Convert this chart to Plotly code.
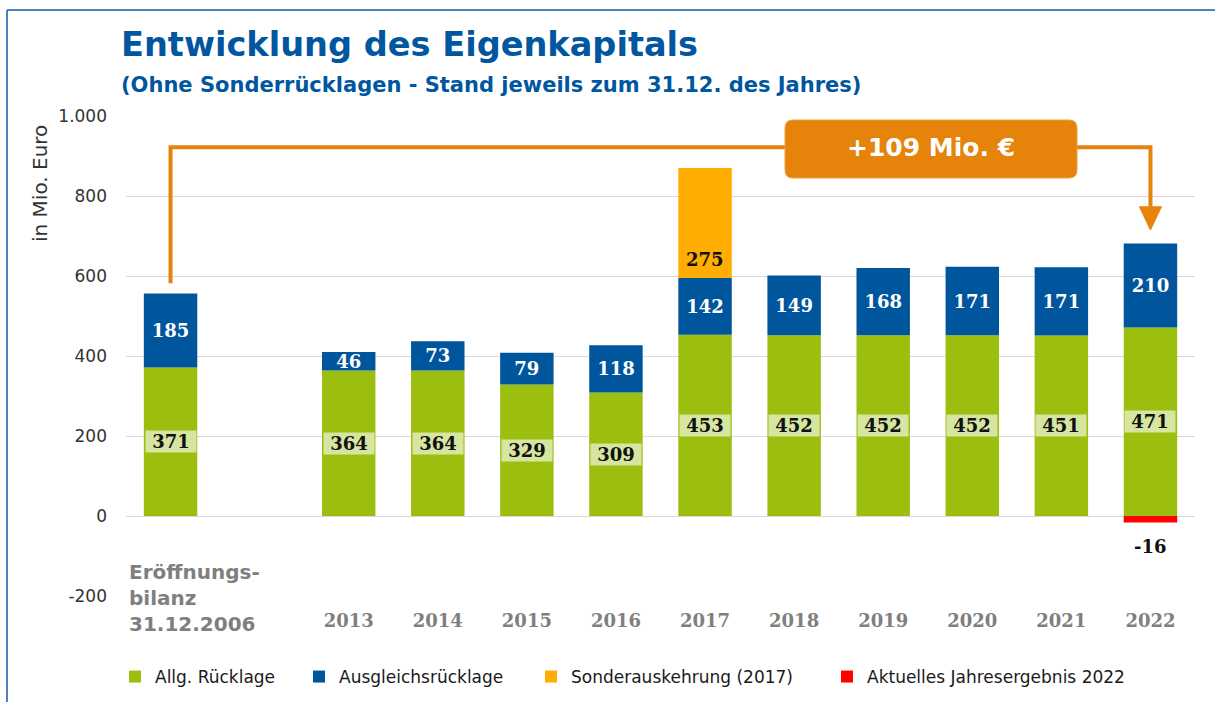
import plotly.graph_objects as go

# ---------------- data ----------------
categories = ["Eröffnungsbilanz 31.12.2006", "2013", "2014", "2015", "2016",
              "2017", "2018", "2019", "2020", "2021", "2022"]
opening_label = "Eröffnungs-<br>bilanz<br>31.12.2006"
allg_ruecklage = [371, 364, 364, 329, 309, 453, 452, 452, 452, 451, 471]
ausgleichsruecklage = [185, 46, 73, 79, 118, 142, 149, 168, 171, 171, 210]
sonder_cats = ["2017"]
sonder_vals = [275]
jahres_cats = ["2022"]
jahres_vals = [-16]
y_ticks = [-200, 0, 200, 400, 600, 800, 1000]
y_ticktext = [f"{v:,}".replace(",", ".") for v in y_ticks]
change_label = "+109 Mio. €"

series_names = ["Allg. Rücklage", "Ausgleichsrücklage",
                "Sonderauskehrung (2017)", "Aktuelles Jahresergebnis 2022"]
colors = ["#9BBE0F", "#00569D", "#FFAD00", "#FF0000"]
legend_widths = [139, 187, 251, 290]

# slot positions: one empty slot between opening balance and 2013
slot = {c: (0 if i == 0 else i + 1) for i, c in enumerate(categories)}
xs = [slot[c] for c in categories]

# ---------------- geometry helpers ----------------
W, H = 1215, 702
L, R, T, B = 126, 20, 116, 106
pw, ph = W - L - R, H - T - B
x_range = [-0.5, 11.5]
y_range = [-200, 1000]


def px_x(p):
    return (p - L) / pw


def px_y(p):
    return (H - B - p) / ph


ux = pw / (x_range[1] - x_range[0])   # px per x unit
uy = ph / (y_range[1] - y_range[0])   # px per y unit

serif = "DejaVu Serif"
sans = "DejaVu Sans"
orange = "#E5830A"

fig = go.Figure()
fig.add_bar(x=xs, y=allg_ruecklage, name=series_names[0], legendwidth=legend_widths[0],
            marker=dict(color=colors[0], line=dict(width=0)), width=0.6)
fig.add_bar(x=xs, y=ausgleichsruecklage, name=series_names[1], legendwidth=legend_widths[1],
            marker=dict(color=colors[1], line=dict(width=0)), width=0.6,
            text=[str(v) for v in ausgleichsruecklage], textposition="inside",
            insidetextanchor="middle", textangle=0,
            textfont=dict(family=serif, size=18, color="white", weight="bold"))
fig.add_bar(x=[slot[c] for c in sonder_cats], y=sonder_vals, name=series_names[2],
            legendwidth=legend_widths[2],
            marker=dict(color=colors[2], line=dict(width=0)), width=0.6)
fig.add_bar(x=[slot[c] for c in jahres_cats], y=jahres_vals, name=series_names[3],
            legendwidth=legend_widths[3],
            marker=dict(color=colors[3], line=dict(width=0)), width=0.6)

annotations = []
# green labels with light boxes
for c, v in zip(categories, allg_ruecklage):
    annotations.append(dict(x=slot[c], y=v / 2, xref="x", yref="y",
                            text=f"\u00a0{v}\u00a0", showarrow=False,
                            bgcolor="#D6E5A0", borderpad=0,
                            font=dict(family=serif, size=18, color="#111111", weight="bold")))
# Sonderauskehrung label
for c, v in zip(sonder_cats, sonder_vals):
    i = categories.index(c)
    base = allg_ruecklage[i] + ausgleichsruecklage[i]
    annotations.append(dict(x=slot[c], y=base, xref="x", yref="y", yanchor="bottom",
                            yshift=6, text=str(v), showarrow=False,
                            font=dict(family=serif, size=18, color="#111111", weight="bold")))
# Jahresergebnis label
for c, v in zip(jahres_cats, jahres_vals):
    annotations.append(dict(x=slot[c], y=v, xref="x", yref="y", yanchor="top",
                            yshift=-12, text=str(v), showarrow=False,
                            font=dict(family=serif, size=18, color="#111111", weight="bold")))
# opening balance category label
annotations.append(dict(x=slot[categories[0]], y=y_range[0], xref="x", yref="y",
                        xanchor="left", yanchor="middle", xshift=-47, yshift=-2,
                        align="left", text=opening_label, showarrow=False,
                        bgcolor="white", borderpad=4,
                        font=dict(family=sans, size=20, color="#7F7F7F", weight="bold")))
# title + subtitle
annotations.append(dict(x=px_x(119), y=px_y(45), xref="paper", yref="paper",
                        xanchor="left", yanchor="middle", showarrow=False,
                        text="Entwicklung des Eigenkapitals",
                        font=dict(family=sans, size=33.6, color="#0057A0", weight="bold")))
annotations.append(dict(x=px_x(119), y=px_y(85), xref="paper", yref="paper",
                        xanchor="left", yanchor="middle", showarrow=False,
                        text="(Ohne Sonderrücklagen - Stand jeweils zum 31.12. des Jahres)",
                        font=dict(family=sans, size=21, color="#0057A0", weight="bold")))
# y-axis title
annotations.append(dict(x=px_x(40), y=px_y(184), xref="paper", yref="paper",
                        xanchor="center", yanchor="middle",
                        textangle=-90, showarrow=False, text="in Mio. Euro",
                        font=dict(family=sans, size=20, color="#333333")))

# ---------------- connector / arrow / box ----------------
first_total = allg_ruecklage[0] + ausgleichsruecklage[0]
last_total = allg_ruecklage[-1] + ausgleichsruecklage[-1]
x_first, x_last = slot[categories[0]], slot[categories[-1]]
y_start = first_total + 26
y_top = 922
y_arrow_base = last_total + 92
y_arrow_tip = last_total + 34
dx = 11 / ux

shapes = []
shapes.append(dict(type="path", xref="x", yref="y", layer="above",
                   path=f"M {x_first},{y_start} L {x_first},{y_top} L {x_last},{y_top} L {x_last},{y_arrow_base}",
                   line=dict(color=orange, width=4)))
shapes.append(dict(type="path", xref="x", yref="y", layer="above",
                   path=f"M {x_last - dx},{y_arrow_base} L {x_last + dx},{y_arrow_base} L {x_last},{y_arrow_tip} Z",
                   fillcolor=orange, line=dict(color=orange, width=1)))
bx0, bx1 = (785 - L) / ux + x_range[0], (1077 - L) / ux + x_range[0]
by1, by0 = (H - B - 120) / uy + y_range[0], (H - B - 178) / uy + y_range[0]
rx, ry = 8 / ux, 8 / uy
box = (f"M {bx0 + rx},{by0} L {bx1 - rx},{by0} Q {bx1},{by0} {bx1},{by0 + ry} "
       f"L {bx1},{by1 - ry} Q {bx1},{by1} {bx1 - rx},{by1} L {bx0 + rx},{by1} "
       f"Q {bx0},{by1} {bx0},{by1 - ry} L {bx0},{by0 + ry} Q {bx0},{by0} {bx0 + rx},{by0} Z")
shapes.append(dict(type="path", xref="x", yref="y", layer="above", path=box,
                   fillcolor=orange, line=dict(color="#F0A040", width=1)))
annotations.append(dict(x=(bx0 + bx1) / 2, y=(by0 + by1) / 2, xref="x", yref="y",
                        text=change_label, showarrow=False, yshift=2,
                        font=dict(family=sans, size=25, color="white", weight="bold")))
# frame
frame = "#4F81BD"
shapes.append(dict(type="line", xref="paper", yref="paper", x0=px_x(7), x1=px_x(7),
                   y0=px_y(10), y1=px_y(H + 5), line=dict(color=frame, width=2)))
shapes.append(dict(type="line", xref="paper", yref="paper", x0=px_x(7), x1=px_x(W + 5),
                   y0=px_y(10), y1=px_y(10), line=dict(color=frame, width=2)))

fig.update_layout(
    width=W, height=H,
    margin=dict(l=L, r=R, t=T, b=B, autoexpand=False),
    paper_bgcolor="white", plot_bgcolor="white",
    barmode="relative", bargap=0.4,
    separators=",.",
    showlegend=True,
    legend=dict(orientation="h", x=px_x(115), y=px_y(677), xanchor="left", yanchor="middle",
                font=dict(family=sans, size=17, color="#1A1A1A"), traceorder="normal",
                itemwidth=30, tracegroupgap=0),
    uniformtext=dict(minsize=18, mode="show"),
    annotations=annotations,
    shapes=shapes,
    xaxis=dict(range=x_range, tickvals=xs, automargin=False,
               ticktext=[""] + categories[1:], showgrid=False, zeroline=False,
               showline=False, ticks="", ticklabelstandoff=12,
               tickfont=dict(family=serif, size=18, color="#7F7F7F", weight="bold")),
    yaxis=dict(range=y_range, tickvals=y_ticks, ticktext=y_ticktext, showgrid=True,
               automargin=False,
               gridcolor="#D9D9D9", gridwidth=1, zeroline=True, zerolinecolor="#D9D9D9",
               zerolinewidth=1, showline=False, ticks="", ticklabelstandoff=18,
               tickfont=dict(family=sans, size=17, color="#333333")),
)

fig.write_html("out.html", config={"displayModeBar": False},
               post_script="document.body.style.margin='0';")
